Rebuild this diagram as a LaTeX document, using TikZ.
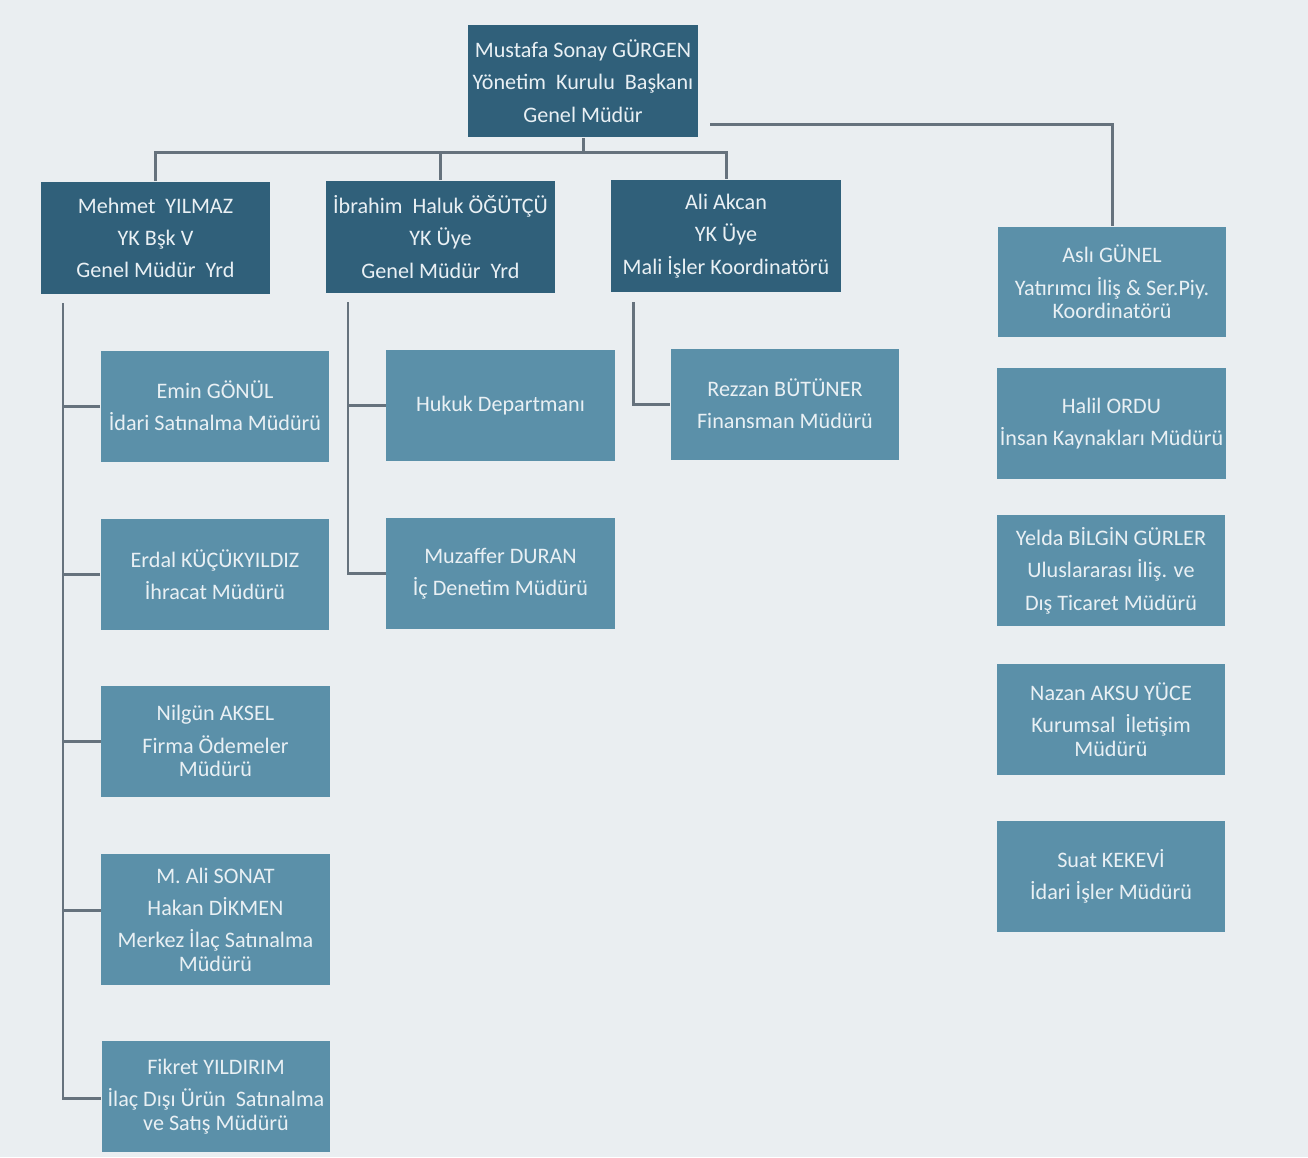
\documentclass[tikz,border=0pt]{standalone}
\usepackage{fontspec}
\setmainfont{Carlito}
\usepackage{tikz}

\definecolor{bgcol}{HTML}{EAEEF1}
\definecolor{darkbox}{HTML}{30607A}
\definecolor{lightbox}{HTML}{5B90A9}
\definecolor{linecol}{HTML}{66727D}
\definecolor{txtcol}{HTML}{E9F0F4}

\tikzset{
  headbox/.style={shape=rectangle,fill=darkbox,text=txtcol,align=center,inner sep=0pt,
    minimum width=4.6cm,minimum height=2.26cm,font=\fontsize{12.6}{13.4}\selectfont},
  unitbox/.style={shape=rectangle,fill=lightbox,text=txtcol,align=center,inner sep=0pt,
    minimum width=4.58cm,minimum height=2.22cm,font=\fontsize{12.6}{13.4}\selectfont},
  link/.style={draw=linecol,line width=1.7pt}
}

\begin{document}
\begin{tikzpicture}[x=0.02cm,y=-0.02cm]
		\fill [bgcol] (0,0) rectangle (1308,1157);
		% top
		\node [headbox] (gm) at (583,81) {Mustafa Sonay GÜRGEN\\[5pt]Yönetim\ \ Kurulu\ \ Başkanı\\[5pt]Genel Müdür};
		% second row
		\node [headbox] (my) at (155.5,238) {Mehmet\ \ YILMAZ\\[5pt]YK Bşk V\\[5pt]Genel Müdür\ \ Yrd};
		\node [headbox] (ih) at (440.5,237) {İbrahim\ \ Haluk ÖĞÜTÇÜ\\[5pt]YK Üye\\[5pt]Genel Müdür\ \ Yrd};
		\node [headbox] (aa) at (726,236) {Ali Akcan\\[5pt]YK Üye\\[5pt]Mali İşler Koordinatörü};
		% under Mehmet YILMAZ
		\node [unitbox] (eg) at (215,406) {Emin GÖNÜL\\[5pt]İdari Satınalma Müdürü};
		\node [unitbox] (ek) at (215,574.5) {Erdal KÜÇÜKYILDIZ\\[5pt]İhracat Müdürü};
		\node [unitbox] (na) at (215.5,741) {Nilgün AKSEL\\[5pt]Firma Ödemeler\\Müdürü};
		\node [unitbox,minimum height=2.62cm] (ms) at (215.5,919.5) {M. Ali SONAT\\[5pt]Hakan DİKMEN\\[5pt]Merkez İlaç Satınalma\\Müdürü};
		\node [unitbox] (fy) at (216,1096.5) {Fikret YILDIRIM\\[5pt]İlaç Dışı Ürün\ \ Satınalma\\ve Satış Müdürü};
		% under İbrahim Haluk ÖĞÜTÇÜ
		\node [unitbox] (hd) at (500.5,405.5) {Hukuk Departmanı};
		\node [unitbox] (md) at (500.5,573.5) {Muzaffer DURAN\\[5pt]İç Denetim Müdürü};
		% under Ali Akcan
		\node [unitbox] (rb) at (785,404) {Rezzan BÜTÜNER\\[5pt]Finansman Müdürü};
		% right column
		\node [unitbox] (ag) at (1112,282) {Aslı GÜNEL\\[5pt]Yatırımcı İliş \& Ser.Piy.\\Koordinatörü};
		\node [unitbox] (ho) at (1111.5,423.5) {Halil ORDU\\[5pt]İnsan Kaynakları Müdürü};
		\node [unitbox] (yb) at (1111,570.5) {Yelda BİLGİN GÜRLER\\[5pt]Uluslararası İliş. ve\\[5pt]Dış Ticaret Müdürü};
		\node [unitbox] (ny) at (1111,719.5) {Nazan AKSU YÜCE\\[5pt]Kurumsal\ \ İletişim\\Müdürü};
		\node [unitbox] (sk) at (1111,876) {Suat KEKEVİ\\[5pt]İdari İşler Müdürü};
		% connectors from the top
		\coordinate (bus) at (583,152);
		\draw [link] (gm.south) -- (bus);
		\draw [link] (my.north) |- (bus) -| (aa.north);
		\draw [link] (ih.north) -- (ih.north |- bus);
		\coordinate (rs) at (710,124);
		\draw [link] (rs) -| (ag.north);
		% left trunk
		\coordinate (t1) at (63,303);
		\coordinate (t1e) at (63,1098);
		\draw [link] (t1) -- (t1e) -- (fy.west |- t1e);
		\draw [link] (eg.west) -- (eg.west -| t1);
		\draw [link] (ek.west) -- (ek.west -| t1);
		\draw [link] (na.west) -- (na.west -| t1);
		\draw [link] (ms.west) ++(0,-9) -- ++(-38,0);
		% middle trunk
		\coordinate (t2) at (348,302);
		\draw [link] (t2) |- (md.west);
		\draw [link] (hd.west) -- (hd.west -| t2);
		% right trunk
		\coordinate (t3) at (633,302);
		\draw [link] (t3) |- (rb.west);
	\end{tikzpicture}
\end{document}
